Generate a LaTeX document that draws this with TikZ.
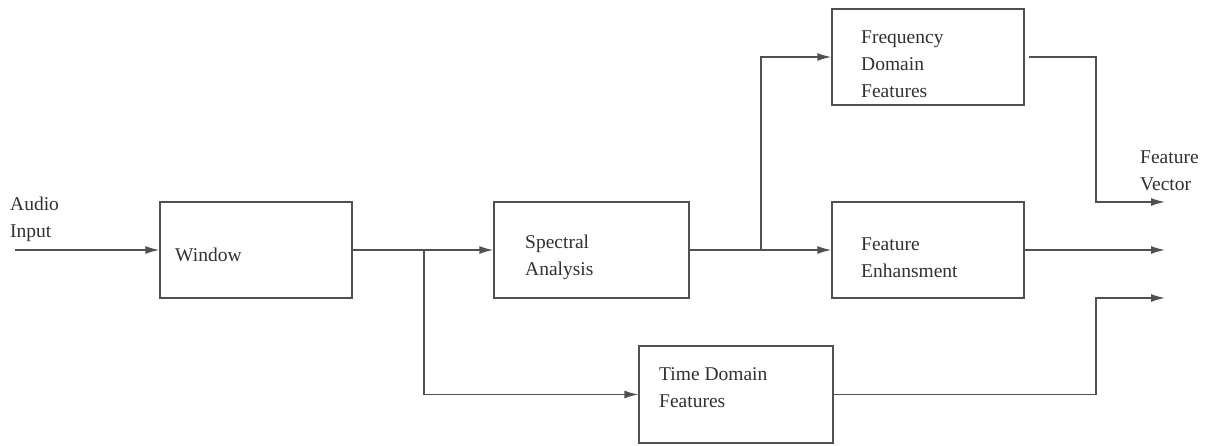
\documentclass[tikz,border=0pt]{standalone}
\usepackage{fontspec}
\setmainfont{Liberation Serif}
\newfontfamily\diagfont{Liberation Serif}
\usetikzlibrary{arrows.meta}
\definecolor{ln}{HTML}{505050}
\definecolor{tx}{HTML}{303030}
\begin{document}
\begin{tikzpicture}[x=1pt,y=-1pt,
  box/.style={draw=ln,line width=1.4pt,rectangle,inner sep=0pt},
  lbl/.style={anchor=west,inner sep=0pt,align=left,text=tx,font=\diagfont\fontsize{19.5}{27}\selectfont},
  conn/.style={draw=ln,line width=1.4pt},
  arr/.style={conn,-{Latex[length=14pt,width=8pt]}}]
\useasboundingbox (0,0) rectangle (1208,445);
% boxes
\node[box,minimum width=192pt,minimum height=96pt] (win) at (256,250) {};
\node[box,minimum width=195pt,minimum height=96pt] (spec) at (591.5,250) {};
\node[box,minimum width=192pt,minimum height=96pt] (freq) at (928,57) {};
\node[box,minimum width=192pt,minimum height=96pt] (enh) at (928,250) {};
\node[box,minimum width=194pt,minimum height=97pt] (time) at (736,394.5) {};
% texts
\node[lbl] (tain) at (10,219.5) {Audio\\Input};
\node[lbl] (twin) at (175,255) {Window};
\node[lbl] (tspec) at (525,257) {Spectral\\Analysis};
\node[lbl] (tfreq) at (861,64) {Frequency\\Domain\\Features};
\node[lbl] (tenh) at (861,257.5) {Feature\\Enhansment};
\node[lbl] (ttime) at (659,388) {Time Domain\\Features};
\node[lbl] (tfv) at (1140,170.5) {Feature\\Vector};
% coordinates
\coordinate (ain) at (15,250);
\coordinate (b1) at (424,250);
\coordinate (b2) at (761,250);
\coordinate (fo) at (1029,57);
\coordinate (jx) at (1096,0);
\coordinate (o1) at (1165,202);
\coordinate (o2) at (1165,250);
\coordinate (o3) at (1165,298);
% connectors
\draw[arr] (ain) -- (win.west);
\draw[arr] (win.east) -- (spec.west);
\draw[arr] (b1) |- (time.west);
\draw[arr] (spec.east) -- (enh.west);
\draw[arr] (b2) |- (freq.west);
\draw[arr] (fo) -- (fo -| jx) |- (o1);
\draw[arr] (enh.east) -- (o2);
\draw[arr] (time.east) -- (time.east -| jx) |- (o3);
\end{tikzpicture}
\end{document}
